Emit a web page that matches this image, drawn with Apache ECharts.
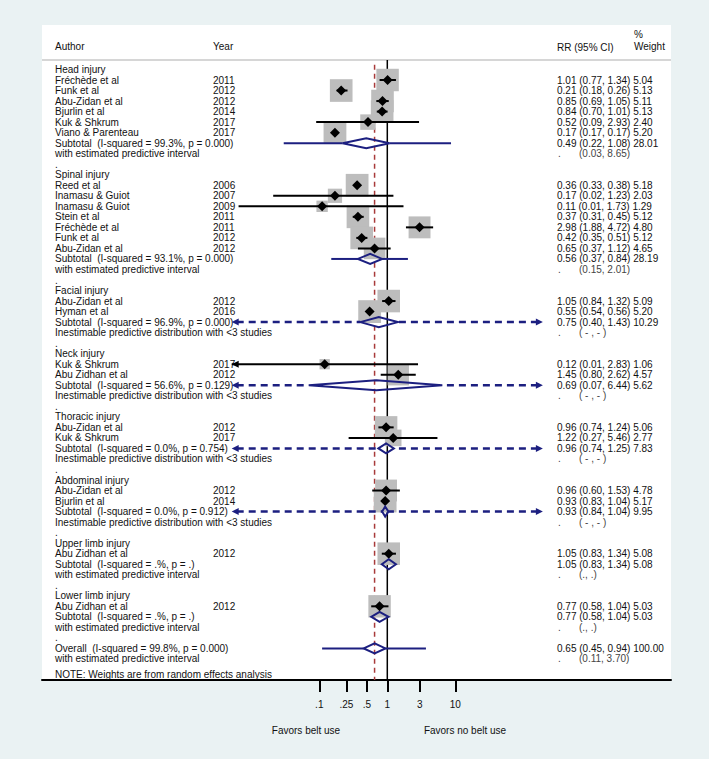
<!DOCTYPE html>
<html><head><meta charset="utf-8">
<script src="https://cdn.jsdelivr.net/npm/echarts@6/dist/echarts.min.js"></script>
<style>html,body{margin:0;padding:0;background:#eaf2f3}#c{width:709px;height:759px}</style>
</head><body><div id="c"></div>
<script>
// ---------------- data ----------------
const headingRows = [0, 10, 21, 27, 33, 39, 45, 50];
const headingNames = ['Head injury', 'Spinal injury', 'Facial injury', 'Neck injury', 'Thoracic injury', 'Abdominal injury', 'Upper limb injury', 'Lower limb injury'];

const studyRows = [1, 2, 3, 4, 5, 6, 11, 12, 13, 14, 15, 16, 17, 22, 23, 28, 29, 34, 35, 40, 41, 46, 51];
const studyAuthors = ['Fréchède et al', 'Funk et al', 'Abu-Zidan et al', 'Bjurlin et al', 'Kuk & Shkrum', 'Viano & Parenteau',
  'Reed et al', 'Inamasu & Guiot', 'Inamasu & Guiot', 'Stein et al', 'Fréchède et al', 'Funk et al', 'Abu-Zidan et al',
  'Abu-Zidan et al', 'Hyman et al', 'Kuk & Shkrum', 'Abu Zidhan et al', 'Abu-Zidan et al', 'Kuk & Shkrum',
  'Abu-Zidan et al', 'Bjurlin et al', 'Abu Zidhan et al', 'Abu Zidhan et al'];
const studyYears = ['2011', '2012', '2012', '2014', '2017', '2017', '2006', '2007', '2009', '2011', '2011', '2012', '2012',
  '2012', '2016', '2017', '2012', '2012', '2017', '2012', '2014', '2012', '2012'];
const studyRR = [1.01, 0.21, 0.85, 0.84, 0.52, 0.17, 0.36, 0.17, 0.11, 0.37, 2.98, 0.42, 0.65, 1.05, 0.55, 0.12, 1.45, 0.96, 1.22, 0.96, 0.93, 1.05, 0.77];
const studyLo = [0.77, 0.18, 0.69, 0.70, 0.09, 0.17, 0.33, 0.021, 0.0065, 0.31, 1.88, 0.35, 0.37, 0.84, 0.54, 0.0051, 0.80, 0.74, 0.27, 0.60, 0.83, 0.83, 0.58];
const studyHi = [1.34, 0.26, 1.05, 1.01, 2.93, 0.17, 0.38, 1.23, 1.73, 0.45, 4.72, 0.51, 1.12, 1.32, 0.56, 2.83, 2.62, 1.24, 5.46, 1.53, 1.04, 1.34, 1.04];
const studyW = [5.04, 5.13, 5.11, 5.13, 2.40, 5.20, 5.18, 2.03, 1.29, 5.12, 4.80, 5.12, 4.65, 5.09, 5.20, 1.06, 4.57, 5.06, 2.77, 4.78, 5.17, 5.08, 5.03];

const subRows = [7, 18, 24, 30, 36, 42, 47, 52, 55];
const subNames = ['Subtotal', 'Subtotal', 'Subtotal', 'Subtotal', 'Subtotal', 'Subtotal', 'Subtotal', 'Subtotal', 'Overall'];
const subI2 = ['99.3%', '93.1%', '96.9%', '56.6%', '0.0%', '0.0%', '.%', '.%', '99.8%'];
const subP = ['0.000', '0.000', '0.000', '0.129', '0.754', '0.912', '.', '.', '0.000'];
const subRR = [0.49, 0.56, 0.75, 0.69, 0.96, 0.93, 1.05, 0.77, 0.65];
const subLo = [0.22, 0.37, 0.40, 0.07, 0.74, 0.84, 0.83, 0.58, 0.45];
const subHi = [1.08, 0.84, 1.43, 6.44, 1.25, 1.04, 1.34, 1.04, 0.94];
const subW = [28.01, 28.19, 10.29, 5.62, 7.83, 9.95, 5.08, 5.03, 100.00];
const predType = ['est', 'est', 'inest', 'inest', 'inest', 'inest', 'none', 'none', 'est'];
const predLo = [0.03, 0.15, null, null, null, null, null, null, 0.11];
const predHi = [8.65, 2.01, null, null, null, null, null, null, 3.70];
const predText = ['(0.03, 8.65)', '(0.15, 2.01)', '( - , - )', '( - , - )', '( - , - )', '( - , - )', '(., .)', '(., .)', '(0.11, 3.70)'];

const spacerRows = [9, 20, 26, 32, 38, 44, 49, 54];
const tickValues = [0.1, 0.25, 0.5, 1, 3, 10];
const tickLabels = ['.1', '.25', '.5', '1', '3', '10'];
const noteText = 'NOTE: Weights are from random effects analysis';
const favorLeft = 'Favors belt use';
const favorRight = 'Favors no belt use';

// ---------------- layout ----------------
const FONT = '10px "Liberation Sans", Arial, sans-serif';
const LX = v => Math.log10(v);
const XMIN = -2.288, XMAX = 2.288;
const YMIN = -4.225, YMAX = 58;
const NAVY = '#1c1f80', BOX = '#bdbdbd', RED = '#a83a3a', INK = '#111';
const f2 = v => v.toFixed(2);

// text items
const texts = [];
const addT = (x, row, text, color) => texts.push({ x, row, text, color: color || INK });
addT(13, -2.15, 'Author'); addT(171, -2.15, 'Year'); addT(515, -2.05, 'RR (95% CI)');
addT(592, -3.3, '%'); addT(592, -2.15, 'Weight');
headingRows.forEach((r, i) => addT(13, r, headingNames[i]));
studyRows.forEach((r, i) => {
  addT(13, r, studyAuthors[i]);
  addT(171, r, studyYears[i]);
  addT(515, r, f2(studyRR[i]) + ' (' + f2(studyLo[i]) + ', ' + f2(studyHi[i]) + ') ' + f2(studyW[i]));
});
subRows.forEach((r, i) => {
  addT(13, r, subNames[i] + '  (I-squared = ' + subI2[i] + ', p = ' + subP[i] + ')');
  addT(515, r, f2(subRR[i]) + ' (' + f2(subLo[i]) + ', ' + f2(subHi[i]) + ') ' + f2(subW[i]));
  addT(13, r + 1, predType[i] === 'inest' ? 'Inestimable predictive distribution with <3 studies' : 'with estimated predictive interval');
  addT(516, r + 1, '.', '#444');
  addT(537, r + 1, predText[i], '#444');
});
spacerRows.forEach(r => addT(13, r, '.'));
addT(13, 57.5, noteText);

const chart = echarts.init(document.getElementById('c'), null, { renderer: 'svg', width: 709, height: 759 });

const plotAxes = { coordinateSystem: 'cartesian2d', xAxisIndex: 1, yAxisIndex: 1, clip: false, silent: true };

chart.setOption({
  animation: false,
  backgroundColor: '#eaf2f3',
  grid: [
    { left: 42, right: 38, top: 25, bottom: 79, show: true, backgroundColor: '#ffffff', borderWidth: 0 },
    { left: 231.7, right: 709 - 542.9, top: 25, bottom: 79 }
  ],
  xAxis: [
    { gridIndex: 0, type: 'value', min: 0, max: 629, position: 'bottom',
      axisLine: { show: true, onZero: false, lineStyle: { color: '#000', width: 2 } },
      axisTick: { show: false }, axisLabel: { show: false }, splitLine: { show: false } },
    { gridIndex: 1, type: 'value', min: XMIN, max: XMAX, position: 'bottom',
      axisLine: { show: false, onZero: false },
      axisTick: { show: true, length: 12, customValues: tickValues.map(LX), lineStyle: { color: '#000', width: 2 } },
      axisLabel: { show: true, margin: 19, customValues: tickValues.map(LX), color: INK,
        fontFamily: '"Liberation Sans", Arial, sans-serif', fontSize: 10,
        formatter: v => { const k = tickValues.findIndex(t => Math.abs(LX(t) - v) < 1e-6); return k >= 0 ? tickLabels[k] : ''; } },
      splitLine: { show: false } }
  ],
  yAxis: [
    { gridIndex: 0, type: 'value', min: YMIN, max: YMAX, inverse: true, show: false },
    { gridIndex: 1, type: 'value', min: YMIN, max: YMAX, inverse: true, show: false }
  ],
  graphic: [
    { type: 'text', x: 306, y: 730, style: { text: favorLeft, align: 'center', verticalAlign: 'middle', font: FONT, fill: INK } },
    { type: 'text', x: 465, y: 730, style: { text: favorRight, align: 'center', verticalAlign: 'middle', font: FONT, fill: INK } }
  ],
  series: [
    // header rule
    { type: 'custom', coordinateSystem: 'cartesian2d', xAxisIndex: 0, yAxisIndex: 0, clip: false, silent: true, z: 2,
      data: [[0, -0.9]],
      renderItem: (p, api) => {
        const a = api.coord([0, -0.9]), b = api.coord([629, -0.9]);
        return { type: 'line', shape: { x1: a[0], y1: a[1], x2: b[0], y2: b[1] }, style: { stroke: '#c9c9c9', lineWidth: 1.5 } };
      } },
    // reference lines
    Object.assign({ type: 'custom', z: 3, data: [[0, 0]],
      renderItem: (p, api) => {
        const a = api.coord([0, -0.9]), b = api.coord([0, YMAX]);
        const ov = LX(subRR[subRR.length - 1]);
        const c = api.coord([ov, -0.45]), d = api.coord([ov, YMAX]);
        return { type: 'group', children: [
          { type: 'line', shape: { x1: a[0], y1: a[1], x2: b[0], y2: b[1] }, style: { stroke: '#000', lineWidth: 1.5 } },
          { type: 'line', shape: { x1: c[0], y1: c[1], x2: d[0], y2: d[1] }, style: { stroke: RED, lineWidth: 1.5, lineDash: [5, 4] } }
        ] };
      } }, plotAxes),
    // study boxes
    Object.assign({ type: 'custom', z: 4, data: studyRows.map((r, i) => [LX(studyRR[i]), r]),
      renderItem: (p, api) => {
        const i = p.dataIndex;
        const c = api.coord([LX(studyRR[i]), studyRows[i]]);
        const s = 10 * Math.sqrt(studyW[i]);
        return { type: 'rect', shape: { x: c[0] - s / 2, y: c[1] - s / 2, width: s, height: s }, style: { fill: BOX } };
      } }, plotAxes),
    // study CI lines and point estimates
    Object.assign({ type: 'custom', z: 5, data: studyRows.map((r, i) => [LX(studyRR[i]), r]),
      renderItem: (p, api) => {
        const i = p.dataIndex, row = studyRows[i];
        const l0 = LX(studyLo[i]), h0 = LX(studyHi[i]);
        const a = api.coord([Math.max(l0, XMIN), row]), b = api.coord([Math.min(h0, XMAX), row]);
        const m = api.coord([LX(studyRR[i]), row]);
        const ch = [];
        if (b[0] - a[0] > 0.5) ch.push({ type: 'line', shape: { x1: a[0], y1: a[1], x2: b[0], y2: b[1] }, style: { stroke: '#000', lineWidth: 2 } });
        if (l0 < XMIN) ch.push({ type: 'polygon', shape: { points: [[a[0], a[1]], [a[0] + 7, a[1] - 3.5], [a[0] + 7, a[1] + 3.5]] }, style: { fill: '#000' } });
        if (h0 > XMAX) ch.push({ type: 'polygon', shape: { points: [[b[0], b[1]], [b[0] - 7, b[1] - 3.5], [b[0] - 7, b[1] + 3.5]] }, style: { fill: '#000' } });
        const h = 5;
        ch.push({ type: 'polygon', shape: { points: [[m[0] - h, m[1]], [m[0], m[1] - h], [m[0] + h, m[1]], [m[0], m[1] + h]] }, style: { fill: '#000' } });
        return { type: 'group', children: ch };
      } }, plotAxes),
    // subtotal / overall diamonds with predictive intervals
    Object.assign({ type: 'custom', z: 6, data: subRows.map((r, i) => [LX(subRR[i]), r]),
      renderItem: (p, api) => {
        const i = p.dataIndex, row = subRows[i];
        const l = api.coord([LX(subLo[i]), row]), r = api.coord([LX(subHi[i]), row]), m = api.coord([LX(subRR[i]), row]);
        const ch = [];
        if (predType[i] === 'est') {
          const pl = api.coord([Math.max(LX(predLo[i]), XMIN), row]), pr = api.coord([Math.min(LX(predHi[i]), XMAX), row]);
          ch.push({ type: 'line', shape: { x1: pl[0], y1: pl[1], x2: l[0], y2: l[1] }, style: { stroke: NAVY, lineWidth: 2 } });
          ch.push({ type: 'line', shape: { x1: r[0], y1: r[1], x2: pr[0], y2: pr[1] }, style: { stroke: NAVY, lineWidth: 2 } });
        } else if (predType[i] === 'inest') {
          const el = api.coord([XMIN, row]), er = api.coord([XMAX, row]);
          ch.push({ type: 'line', shape: { x1: el[0] + 5, y1: el[1], x2: l[0], y2: l[1] }, style: { stroke: NAVY, lineWidth: 2.5, lineDash: [7, 5] } });
          ch.push({ type: 'line', shape: { x1: er[0] - 5, y1: er[1], x2: r[0], y2: r[1] }, style: { stroke: NAVY, lineWidth: 2.5, lineDash: [7, 5] } });
          ch.push({ type: 'polygon', shape: { points: [[el[0], el[1]], [el[0] + 7, el[1] - 3.5], [el[0] + 7, el[1] + 3.5]] }, style: { fill: NAVY } });
          ch.push({ type: 'polygon', shape: { points: [[er[0], er[1]], [er[0] - 7, er[1] - 3.5], [er[0] - 7, er[1] + 3.5]] }, style: { fill: NAVY } });
        }
        const h = 5;
        ch.push({ type: 'polygon', shape: { points: [[l[0], l[1]], [m[0], m[1] - h], [r[0], r[1]], [m[0], m[1] + h]] },
          style: { fill: 'rgba(255,255,255,0)', stroke: NAVY, lineWidth: 2 } });
        return { type: 'group', children: ch };
      } }, plotAxes),
    // all text columns
    { type: 'custom', coordinateSystem: 'cartesian2d', xAxisIndex: 0, yAxisIndex: 0, clip: false, silent: true, z: 1,
      data: texts.map(t => [t.x, t.row]),
      renderItem: (p, api) => {
        const t = texts[p.dataIndex];
        const c = api.coord([t.x, t.row]);
        return { type: 'text', x: c[0], y: c[1], style: { text: t.text, fill: t.color, font: FONT, align: 'left', verticalAlign: 'middle' } };
      } }
  ]
});
</script></body></html>
